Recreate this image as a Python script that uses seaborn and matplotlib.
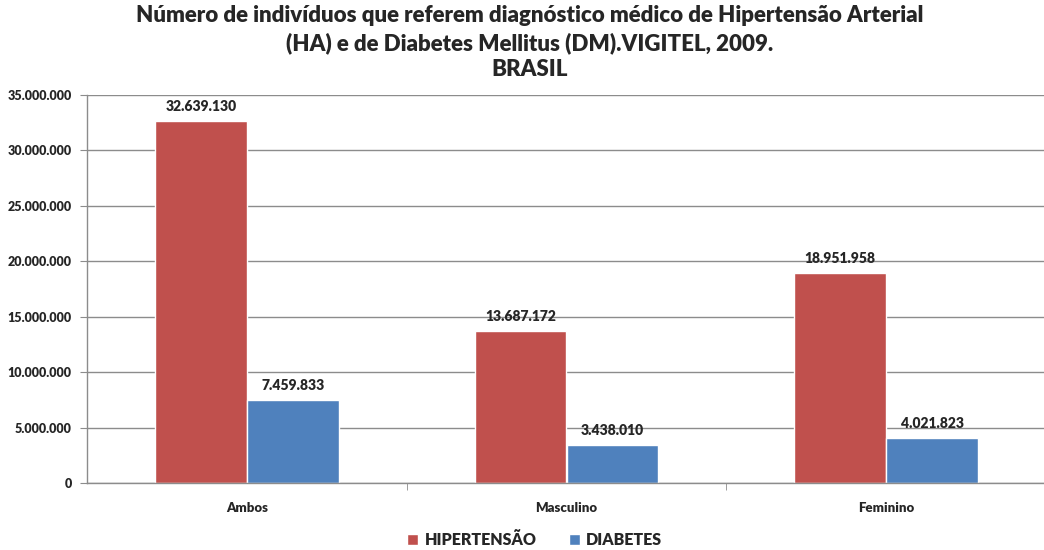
import matplotlib
matplotlib.use('Agg')
import matplotlib.pyplot as plt
import matplotlib.ticker as mticker
import seaborn as sns
import pandas as pd

# data
categories = ["Ambos", "Masculino", "Feminino"]
hipertensao = [32639130, 13687172, 18951958]
diabetes = [7459833, 3438010, 4021823]
series = ["HIPERTENSÃO", "DIABETES"]
colors = ["#C0504D", "#4F81BD"]

df = pd.DataFrame({
  "categoria": categories * 2,
  "valor": hipertensao + diabetes,
  "serie": [series[0]] * 3 + [series[1]] * 3,
})

def fmt_br(v, pos=None):
  return f"{int(v):,}".replace(",", ".")

sns.set_style("white")
plt.rcParams['font.family'] = ['Lato', 'DejaVu Sans']

fig = plt.figure(figsize=(10.44, 5.5), dpi=100)
ax = fig.add_axes([87/1044, 1-483/550, (1046-87)/1044, (483-95)/550])

sns.barplot(data=df, x="categoria", y="valor", hue="serie", palette=colors,
            width=0.575, saturation=1, ax=ax, legend=True)

ax.set_ylim(0, 35000000)
ax.set_xlim(-0.5, 2.5)
ax.yaxis.set_major_locator(mticker.MultipleLocator(5000000))
ax.yaxis.set_major_formatter(mticker.FuncFormatter(fmt_br))
ax.grid(axis='y', color='#8c8c8c', linewidth=1)
ax.set_axisbelow(True)
ax.set_xlabel("")
ax.set_ylabel("")

for s in ["top", "right"]:
  ax.spines[s].set_visible(False)
for s in ["left", "bottom"]:
  ax.spines[s].set_color('#8c8c8c')
  ax.spines[s].set_linewidth(1)

ax.tick_params(axis='y', length=5, color='#8c8c8c', labelsize=9, pad=6, left=True)
ax.tick_params(axis='x', which='major', length=0, labelsize=9.5, pad=14)
ax.set_xticks([0.5, 1.5, 2.5], minor=True)
ax.tick_params(axis='x', which='minor', length=5, color='#8c8c8c', bottom=True)
for lab in ax.get_yticklabels() + ax.get_xticklabels():
  lab.set_fontweight('heavy')

for cont in ax.containers:
  ax.bar_label(cont, labels=[fmt_br(b.get_height()) for b in cont],
               padding=6, fontsize=10, fontweight='heavy')

ax.legend(loc='center', bbox_to_anchor=(0.467, -(540-483)/388), ncol=2, frameon=False,
          prop={'weight': 'heavy', 'size': 11.5}, handlelength=0.7, handleheight=0.7,
          columnspacing=2.0, handletextpad=0.4, borderpad=0.2)

fig.suptitle("Número de indivíduos que referem diagnóstico médico de Hipertensão Arterial\n"
             "(HA) e de Diabetes Mellitus (DM).VIGITEL, 2009.\nBRASIL",
             x=530/1044, y=0.99, fontsize=16, fontweight='heavy', linespacing=1.3)

fig.savefig("out.png", dpi=100)
